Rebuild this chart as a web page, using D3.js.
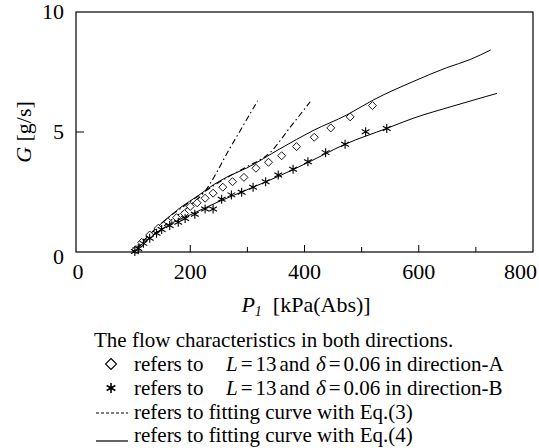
<!DOCTYPE html>
<html>
<head>
<meta charset="utf-8">
<script src="https://cdn.jsdelivr.net/npm/d3@7"></script>
<style>
  body { margin: 0; background: #fff; }
</style>
</head>
<body>
<div id="chart"></div>
<script>
// measured points, direction A (diamonds) and direction B (asterisks) : [P1 kPa, G g/s]
const dirA = [[105,0.1],[115,0.4],[129,0.71],[144,0.99],[161,1.26],[176,1.43],[190,1.6],[200,1.9],
  [212,2.05],[226,2.24],[240,2.45],[257,2.7],[274,2.93],[294,3.11],[315,3.49],[337,3.74],
  [360,4.01],[386,4.39],[417,4.78],[446,5.17],[480,5.63],[519,6.1]]
const dirB = [[103,0.02],[109,0.15],[118,0.36],[129,0.57],[141,0.78],[150,0.94],[164,1.1],[179,1.24],
  [191,1.4],[208,1.57],[226,1.79],[240,1.79],[255,2.2],[272,2.38],[290,2.49],[310,2.7],
  [332,2.93],[354,3.21],[380,3.45],[406,3.76],[437,4.14],[471,4.49],[507,5.01],[544,5.15]]
// fitting curves Eq.(4), solid
const eq4A = [[100,0],[125,0.65],[150,1.2],[180,1.8],[217,2.4],[240,2.79],[264,3.12],[299,3.5],
  [357,4.3],[415,5.06],[474,5.71],[520,6.33],[590,7.1],[649,7.68],[690,8.02],[726,8.42]]
const eq4B = [[100,0],[130,0.6],[160,1.1],[200,1.55],[250,2.1],[310,2.7],[357,3.18],[407,3.74],
  [471,4.49],[544,5.15],[590,5.57],[660,6.08],[737,6.61]]
// fitting curves Eq.(3), dash-dot
const eq3A = [[100,0],[160,1.2],[200,1.95],[223,2.45],[270,4.35],[318,6.3]]
const eq3B = [[100,0],[150,1.2],[200,2.1],[264,3.1],[299,3.55],[340,4.15],[375,5.2],[410,6.26]]

const xTicks = [0, 200, 400, 600, 800]
const xMinor = [100, 300, 500, 700]
const yTicks = [0, 5, 10]

const W = 539, H = 448
const FAM = '"Times New Roman", "Liberation Serif", Tinos, serif'
const svg = d3.select("#chart").append("svg")
  .attr("width", W).attr("height", H)

const x = d3.scaleLinear().domain([0, 800]).range([76, 533])
const y = d3.scaleLinear().domain([0, 10]).range([252, 12])

// helper: text with explicit font
const txt = (sel, size) => sel.append("text")
  .attr("font-family", FAM).attr("font-size", size)
  .style("font", `${size}px ${FAM}`)

// frame
svg.append("rect")
  .attr("x", x(0)).attr("y", y(10))
  .attr("width", x(800) - x(0)).attr("height", y(0) - y(10))
  .attr("fill", "none").attr("stroke", "#000").attr("stroke-width", 1.2)

// ticks (inward)
svg.selectAll(".xt").data(xTicks.slice(1, -1)).enter().append("line")
  .attr("x1", d => x(d)).attr("x2", d => x(d))
  .attr("y1", y(0)).attr("y2", y(0) - 7)
  .attr("stroke", "#000").attr("stroke-width", 1)
svg.selectAll(".xm").data(xMinor).enter().append("line")
  .attr("x1", d => x(d)).attr("x2", d => x(d))
  .attr("y1", y(0)).attr("y2", y(0) - 5)
  .attr("stroke", "#000").attr("stroke-width", 1)
svg.selectAll(".yt").data(yTicks.slice(1, -1)).enter().append("line")
  .attr("x1", x(0)).attr("x2", x(0) + 8)
  .attr("y1", d => y(d)).attr("y2", d => y(d))
  .attr("stroke", "#000").attr("stroke-width", 1)

// tick labels
xTicks.forEach(d => {
  txt(svg, 22)
    .attr("x", d === 800 ? 537 : x(d) + (d === 0 ? 2 : 0)).attr("y", 279)
    .attr("text-anchor", d === 800 ? "end" : "middle")
    .text(d)
})
yTicks.forEach(d => {
  txt(svg, 22)
    .attr("x", 64).attr("y", d === 0 ? y(d) + 12 : y(d) + 7)
    .attr("text-anchor", "end")
    .text(d)
})

// axis titles
const xt = txt(svg, 22).attr("x", 306).attr("y", 312)
  .attr("text-anchor", "middle").attr("xml:space", "preserve")
xt.append("tspan").style("font-style", "italic").text("P")
xt.append("tspan").style("font-style", "italic").style("font-size", "14px").attr("dy", 4).text("1")
xt.append("tspan").attr("dy", -4).text("  [kPa(Abs)]")

const yt = txt(svg, 22)
  .attr("transform", `translate(31, 132) rotate(-90)`)
  .attr("text-anchor", "middle").attr("xml:space", "preserve")
yt.append("tspan").style("font-style", "italic").text("G")
yt.append("tspan").text(" [g/s]")

// curves
const line = d3.line().x(d => x(d[0])).y(d => y(d[1])).curve(d3.curveMonotoneX)
svg.selectAll(".eq4").data([eq4A, eq4B]).enter().append("path")
  .attr("d", line).attr("fill", "none").attr("stroke", "#000").attr("stroke-width", 1)
svg.selectAll(".eq3").data([eq3A, eq3B]).enter().append("path")
  .attr("d", line).attr("fill", "none").attr("stroke", "#000").attr("stroke-width", 1.1)
  .attr("stroke-dasharray", "6,3,1.5,3")

// markers
const diamond = (cx, cy, r) => `M${cx},${cy - r}L${cx + r},${cy}L${cx},${cy + r}L${cx - r},${cy}Z`
const star = (cx, cy, r) => {
  const dx = r * Math.cos(Math.PI / 6), dy = r * Math.sin(Math.PI / 6)
  return `M${cx},${cy - r}L${cx},${cy + r}M${cx - dx},${cy - dy}L${cx + dx},${cy + dy}M${cx - dx},${cy + dy}L${cx + dx},${cy - dy}`
}
svg.selectAll(".ma").data(dirA).enter().append("path")
  .attr("d", d => diamond(x(d[0]), y(d[1]), 4))
  .attr("fill", "#fff").attr("stroke", "#000").attr("stroke-width", 0.9)
svg.selectAll(".mb").data(dirB).enter().append("path")
  .attr("d", d => star(x(d[0]), y(d[1]), 4.5))
  .attr("fill", "none").attr("stroke", "#000").attr("stroke-width", 1.1)

// legend
const LS = 21
txt(svg, LS).attr("x", 94).attr("y", 347).text("The flow characteristics in both directions.")

const rows = [
  { y: 371, label: "direction-A" },
  { y: 395, label: "direction-B" }
]
rows.forEach((r, i) => {
  if (i === 0) svg.append("path").attr("d", diamond(111, r.y - 7, 5.5))
    .attr("fill", "none").attr("stroke", "#000").attr("stroke-width", 1.1)
  else svg.append("path").attr("d", star(111, r.y - 7, 5))
    .attr("fill", "none").attr("stroke", "#000").attr("stroke-width", 1.6)
  txt(svg, LS).attr("x", 134).attr("y", r.y).text("refers to")
  const t1 = txt(svg, LS).attr("x", 226).attr("y", r.y)
  t1.append("tspan").style("font-style", "italic").text("L")
  t1.append("tspan").attr("dx", 3).text("=")
  t1.append("tspan").attr("dx", 3).text("13")
  t1.append("tspan").attr("dx", 3).text("and")
  const t2 = txt(svg, LS).attr("x", 316).attr("y", r.y)
  t2.append("tspan").style("font-style", "italic").text("\u03b4")
  t2.append("tspan").attr("dx", 3).text("=")
  t2.append("tspan").attr("dx", 3).text("0.06")
  t2.append("tspan").attr("dx", 5).text(`in ${r.label}`)
})
svg.append("line").attr("x1", 96).attr("x2", 128).attr("y1", 413).attr("y2", 413)
  .attr("stroke", "#000").attr("stroke-width", 1).attr("stroke-dasharray", "3,2")
txt(svg, LS).attr("x", 134).attr("y", 419).text("refers to fitting curve with Eq.(3)")
svg.append("line").attr("x1", 96).attr("x2", 128).attr("y1", 441).attr("y2", 441)
  .attr("stroke", "#000").attr("stroke-width", 1.2)
txt(svg, LS).attr("x", 134).attr("y", 442).text("refers to fitting curve with Eq.(4)")
</script>
</body>
</html>
